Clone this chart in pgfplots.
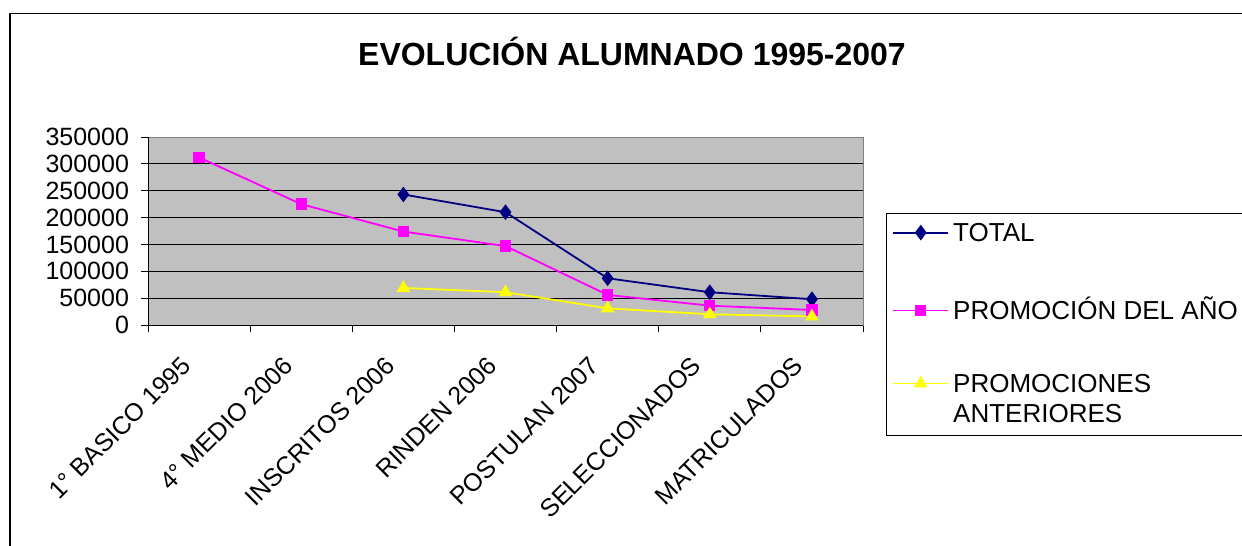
\documentclass[border=0pt]{standalone}
\usepackage{fontspec}
\setmainfont{Liberation Sans}
\usepackage{pgfplots}
\pgfplotsset{compat=1.18}
\definecolor{plotgray}{RGB}{192,192,192}
\definecolor{totalblue}{RGB}{0,0,128}
\definecolor{promopink}{RGB}{255,0,255}
\definecolor{anteyellow}{RGB}{255,255,0}

\begin{document}
\begin{tikzpicture}
\path[use as bounding box] (0,0) rectangle (621pt,-273pt);
\draw[line width=0.8pt] (5pt,-280pt) -- (5pt,-6.75pt) -- (630pt,-6.75pt);
\node[font=\fontsize{16}{19}\selectfont\bfseries] at (316pt,-25.5pt) {EVOLUCIÓN ALUMNADO 1995-2007};
\begin{axis}[
    at={(74pt,-162.5pt)}, anchor=south west,
    width=357.5pt, height=94pt, scale only axis,
    xmin=-0.5, xmax=6.5, ymin=0, ymax=350000,
    ytick={0,50000,...,350000},
    xtick={0,...,6},
    xticklabels={1° BASICO 1995, 4° MEDIO 2006, INSCRITOS 2006, RINDEN 2006, POSTULAN 2007, SELECCIONADOS, MATRICULADOS},
    minor xtick={-0.5,0.5,...,6.5},
    major x tick style={draw=none},
    tick pos=left,
    tick align=outside,
    major tick length=3.5pt, minor tick length=3.5pt,
    tick style={black, line width=0.5pt},
    scaled y ticks=false,
    /pgf/number format/assume math mode=true,
    yticklabel style={/pgf/number format/fixed, /pgf/number format/1000 sep={},
        xshift=-2.5pt, font=\fontsize{12.5}{15}\selectfont},
    xticklabel style={xshift=-6.5pt, yshift=-14.5pt, rotate=45, anchor=east, inner sep=0pt,
        font=\fontsize{12.5}{15}\selectfont},
    axis line style={draw=gray},
    axis background/.style={fill=plotgray},
    ymajorgrids, major grid style={black, line width=0.5pt},
    clip=false,
    legend style={at={(1.032,0.596)}, anchor=north west, draw=black, fill=white,
        font=\fontsize{13}{15}\selectfont, cells={anchor=base west},
        nodes={align=left},
        row sep=22pt, inner xsep=3pt, inner ysep=3pt, line width=0.5pt},
    legend image code/.code={\draw[mark repeat=2, mark phase=2]
        plot coordinates {(0pt,4.5pt) (13.75pt,4.5pt) (27.5pt,4.5pt)};},
]
\addplot[color=totalblue, line width=0.9pt, mark=diamond*, mark size=3.2pt]
    coordinates {(2,243000)(3,210000)(4,87000)(5,61000)(6,48000)};
\addlegendentry{TOTAL}
\addplot[color=promopink, line width=0.9pt, mark=square*, mark size=2.4pt]
    coordinates {(0,312000)(1,225000)(2,174000)(3,147000)(4,56000)(5,36000)(6,28000)};
\addlegendentry{PROMOCIÓN DEL AÑO}
\addplot[color=anteyellow, line width=0.9pt, mark=triangle*, mark size=3pt,
    legend image post style={yshift=15pt}]
    coordinates {(2,69000)(3,61000)(4,31000)(5,20000)(6,16000)};
\addlegendentry{PROMOCIONES\\ANTERIORES}
\draw[black, line width=0.5pt] (rel axis cs:0,1) -- (rel axis cs:0,0) -- (rel axis cs:1,0);
\end{axis}
\end{tikzpicture}
\end{document}
